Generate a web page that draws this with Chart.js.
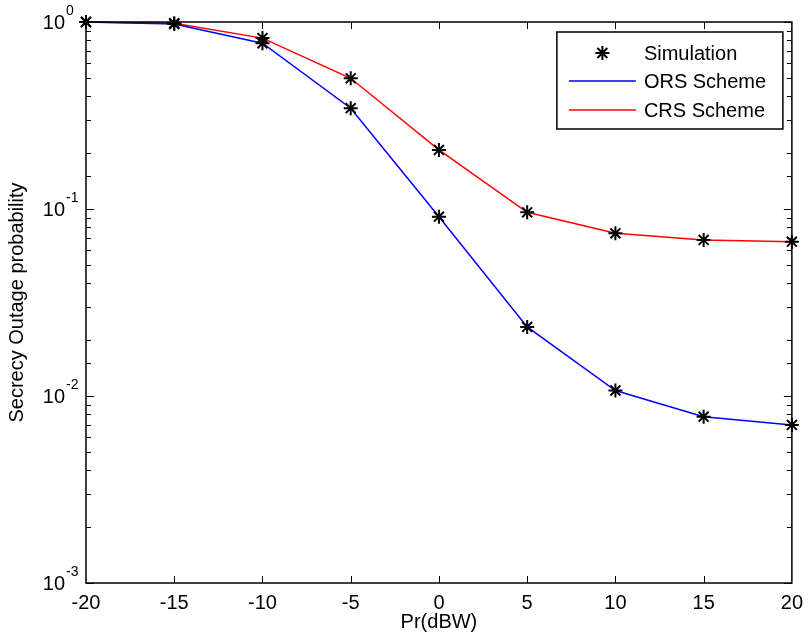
<!DOCTYPE html>
<html>
<head>
<meta charset="utf-8">
<title>Secrecy Outage probability</title>
<script src="https://cdn.jsdelivr.net/npm/chart.js@4.4.1/dist/chart.umd.min.js"></script>
<style>
	html, body { margin: 0; padding: 0; background: #fff; }
	canvas { display: block; }
</style>
</head>
<body>
<canvas id="chartOutage" width="811" height="643"></canvas>
<script>
'use strict'

// values
const prDbw = [-20, -15, -10, -5, 0, 5, 10, 15, 20];
const orsValues = [1.0, 0.975, 0.77, 0.346, 0.091, 0.0234, 0.0107, 0.00775, 0.0070];
const crsValues = [1.0, 0.985, 0.82, 0.50, 0.207, 0.096, 0.0741, 0.0683, 0.0669];
const simOrsValues = [1.0, 0.975, 0.77, 0.346, 0.091, 0.0234, 0.0107, 0.00775, 0.0070];
const simCrsValues = [1.0, 0.985, 0.82, 0.50, 0.207, 0.096, 0.0741, 0.0683, 0.0669];
const xTicks = [-20, -15, -10, -5, 0, 5, 10, 15, 20];
const yDecades = [0.001, 0.01, 0.1, 1];
const legendLabels = ['Simulation', 'ORS Scheme', 'CRS Scheme'];

const font = '"Liberation Sans", Arial, sans-serif';
const colors = {
	ors: '#0000FF',
	crs: '#FF0000',
	axis: '#000000',
};

const toPoints = (ys) => prDbw.map((x, i) => ({ x: x, y: ys[i] }));

// frame, inward ticks (with log minor ticks) and y labels like matlab
const matlabAxes = {
	id: 'matlabAxes',
	afterDatasetsDraw(chart) {
		const { ctx, chartArea: { top, bottom, left, right } } = chart;
		const xs = chart.scales.x;
		const ys = chart.scales.y;
		ctx.save();
		ctx.strokeStyle = colors.axis;
		ctx.lineWidth = 1.5;
		ctx.strokeRect(left, top, right - left, bottom - top);

		ctx.lineWidth = 1;
		ctx.beginPath();
		xTicks.forEach((v) => {
			const px = Math.round(xs.getPixelForValue(v)) + 0.5;
			if (v === xs.min || v === xs.max) return;
			ctx.moveTo(px, bottom);
			ctx.lineTo(px, bottom - 7);
			ctx.moveTo(px, top);
			ctx.lineTo(px, top + 7);
		});
		ys.ticks.forEach((t) => {
			const v = t.value;
			if (v < ys.min || v > ys.max) return;
			const major = yDecades.some((d) => Math.abs(d - v) < d * 1e-6);
			const len = major ? 8 : 5;
			const py = Math.round(ys.getPixelForValue(v)) + 0.5;
			ctx.moveTo(left, py);
			ctx.lineTo(left + len, py);
			ctx.moveTo(right, py);
			ctx.lineTo(right - len, py);
		});
		ctx.stroke();

		ctx.fillStyle = colors.axis;
		ctx.textBaseline = 'middle';
		yDecades.forEach((d) => {
			const py = ys.getPixelForValue(d);
			const exp = Math.round(Math.log10(d));
			ctx.font = '20px ' + font;
			ctx.textAlign = 'right';
			ctx.fillText('10', 65, py + 1);
			ctx.font = '14px ' + font;
			ctx.textAlign = 'left';
			ctx.fillText(String(exp), 66, py - 11);
		});
		ctx.restore();
	},
	afterDraw(chart) {
		const { ctx, chartArea: { top, right } } = chart;
		const boxW = 226;
		const boxH = 97;
		const bx = right - 9 - boxW;
		const by = top + 10;
		ctx.save();
		ctx.fillStyle = '#fff';
		ctx.fillRect(bx, by, boxW, boxH);
		ctx.strokeStyle = colors.axis;
		ctx.lineWidth = 1.5;
		ctx.strokeRect(bx, by, boxW, boxH);

		const rowY = [by + 21, by + 49, by + 78];
		const lineX0 = bx + 12;
		const lineX1 = bx + 79;
		ctx.font = '20px ' + font;
		ctx.textAlign = 'left';
		ctx.textBaseline = 'middle';
		ctx.fillStyle = colors.axis;

		// simulation marker
		const mx = (lineX0 + lineX1) / 2;
		const r = 7;
		ctx.lineWidth = 2;
		ctx.beginPath();
		for (let k = 0; k < 4; k++) {
			const a = k * Math.PI / 4;
			ctx.moveTo(mx - Math.cos(a) * r, rowY[0] - Math.sin(a) * r);
			ctx.lineTo(mx + Math.cos(a) * r, rowY[0] + Math.sin(a) * r);
		}
		ctx.stroke();

		[colors.ors, colors.crs].forEach((c, i) => {
			ctx.strokeStyle = c;
			ctx.lineWidth = 1.5;
			ctx.beginPath();
			ctx.moveTo(lineX0, rowY[i + 1]);
			ctx.lineTo(lineX1, rowY[i + 1]);
			ctx.stroke();
		});

		legendLabels.forEach((label, i) => {
			ctx.fillText(label, bx + 87, rowY[i] + 1);
		});
		ctx.restore();
	},
};

const simStyle = {
	type: 'scatter',
	showLine: false,
	pointStyle: 'star',
	pointRadius: 7,
	pointBorderWidth: 2,
	pointBorderColor: colors.axis,
	pointBackgroundColor: colors.axis,
	clip: false,
	order: 0,
};

let chartOutage = new Chart(document.getElementById('chartOutage'), {
	type: 'line',
	data: {
		datasets: [
			{
				label: 'ORS Scheme',
				data: toPoints(orsValues),
				borderColor: colors.ors,
				borderWidth: 1.5,
				pointRadius: 0,
				tension: 0,
				clip: false,
				order: 1,
			},
			{
				label: 'CRS Scheme',
				data: toPoints(crsValues),
				borderColor: colors.crs,
				borderWidth: 1.5,
				pointRadius: 0,
				tension: 0,
				clip: false,
				order: 1,
			},
			Object.assign({ label: 'Simulation', data: toPoints(simOrsValues) }, simStyle),
			Object.assign({ label: 'Simulation CRS', data: toPoints(simCrsValues) }, simStyle),
		],
	},
	options: {
		responsive: false,
		animation: false,
		events: [],
		layout: {
			padding: { top: 22, right: 13, left: 0, bottom: 0 },
		},
		plugins: {
			legend: { display: false },
			tooltip: { enabled: false },
		},
		scales: {
			x: {
				type: 'linear',
				min: -20,
				max: 20,
				afterBuildTicks: (scale) => {
					scale.ticks = xTicks.map((v) => ({ value: v }));
				},
				afterFit: (scale) => { scale.height = 60; },
				grid: { display: false, drawTicks: false },
				border: { display: false },
				ticks: {
					color: colors.axis,
					padding: 8,
					maxRotation: 0,
					font: { family: font, size: 20 },
				},
				title: {
					display: true,
					text: 'Pr(dBW)',
					color: colors.axis,
					font: { family: font, size: 20 },
					padding: { top: 0, bottom: 9 },
				},
			},
			y: {
				type: 'logarithmic',
				min: 0.001,
				max: 1,
				afterFit: (scale) => { scale.width = 86; },
				grid: { display: false, drawTicks: false },
				border: { display: false },
				ticks: { display: false },
				title: {
					display: true,
					text: 'Secrecy Outage probability',
					color: colors.axis,
					font: { family: font, size: 20 },
					padding: { top: 5, bottom: 0 },
				},
			},
		},
	},
	plugins: [matlabAxes],
});
</script>
</body>
</html>
